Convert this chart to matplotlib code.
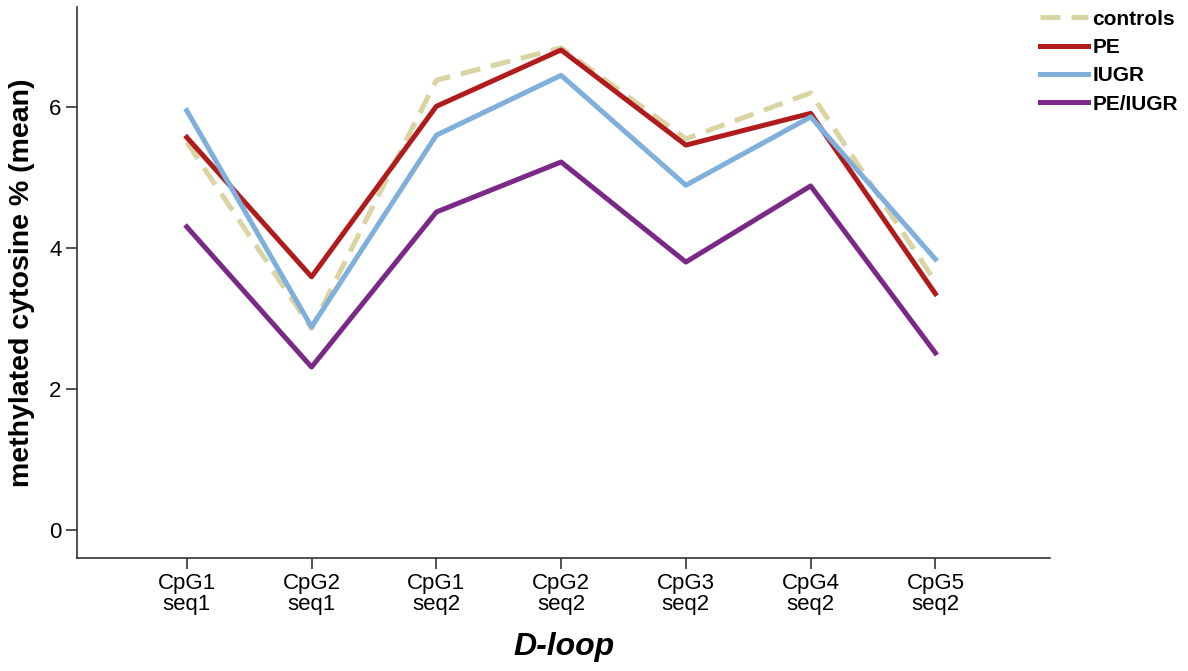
import matplotlib.pyplot as plt

# CpG sites along the D-loop
sites = ['CpG1\nseq1', 'CpG2\nseq1', 'CpG1\nseq2', 'CpG2\nseq2',
         'CpG3\nseq2', 'CpG4\nseq2', 'CpG5\nseq2']

# mean methylated cytosine % per group
controls = [5.50, 2.86, 6.38, 6.84, 5.55, 6.20, 3.52]
pe = [5.57, 3.59, 6.01, 6.81, 5.46, 5.91, 3.35]
iugr = [5.95, 2.88, 5.60, 6.45, 4.89, 5.86, 3.84]
pe_iugr = [4.30, 2.31, 4.51, 5.22, 3.80, 4.88, 2.51]

plt.rcParams['font.family'] = ['Liberation Sans', 'DejaVu Sans']

fig = plt.figure(figsize=(11.88, 6.71), dpi=100)
ax = fig.add_axes([0.0648, 0.1684, 0.884 - 0.0648, 0.9896 - 0.1684])

x = range(len(sites))
lw = 3.6
ax.plot(x, controls, color='#d9d4a2', linewidth=lw, linestyle=(0, (4, 2.2)),
        label='controls', zorder=2)
ax.plot(x, pe, color='#b01c1c', linewidth=lw, label='PE', zorder=3)
ax.plot(x, iugr, color='#7eb0db', linewidth=lw, label='IUGR', zorder=3)
ax.plot(x, pe_iugr, color='#7a2a86', linewidth=lw, label='PE/IUGR', zorder=3)

ax.set_xlim(-0.88, 6.92)
ax.set_ylim(-0.4, 7.42)
ax.set_xticks(list(x))
ax.set_xticklabels(sites, fontsize=16, linespacing=1.0)
ax.set_yticks([0, 2, 4, 6])
ax.tick_params(axis='both', labelsize=16, length=8, width=1.2, color='#333333', pad=3)

for side in ['top', 'right']:
    ax.spines[side].set_visible(False)
for side in ['left', 'bottom']:
    ax.spines[side].set_linewidth(1.2)
    ax.spines[side].set_color('#333333')

ax.set_ylabel('methylated cytosine % (mean)', fontsize=20.5, fontweight='bold', labelpad=10)
ax.set_xlabel('D-loop', fontsize=23, fontweight='bold', style='italic', labelpad=12)

fig.legend(loc='upper left', bbox_to_anchor=(1036 / 1188, 0.992), frameon=False,
           prop={'size': 15, 'weight': 'bold'}, handlelength=2.3, handletextpad=0.2,
           labelspacing=0.45, borderaxespad=0.0, borderpad=0.2)

plt.savefig('out.png', dpi=100)
